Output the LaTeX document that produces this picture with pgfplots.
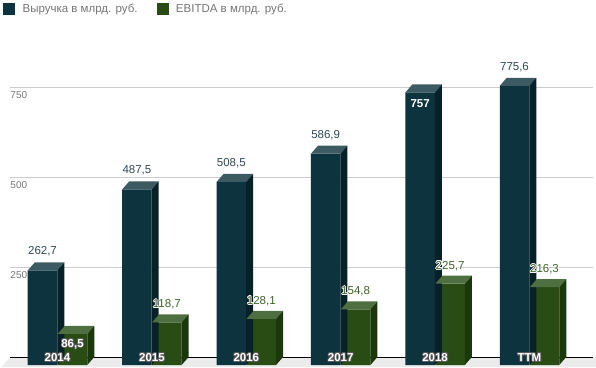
\documentclass[border=0pt]{standalone}
\usepackage{fontspec}
\setmainfont{Liberation Sans}
\usepackage{pgfplots}
\pgfplotsset{compat=1.18}
\definecolor{revF}{HTML}{0C333E}
\definecolor{revT}{HTML}{3B5A62}
\definecolor{revS}{HTML}{072129}
\definecolor{ebF}{HTML}{294C14}
\definecolor{ebT}{HTML}{4E7040}
\definecolor{ebS}{HTML}{1B370C}
\definecolor{revTxt}{HTML}{2E4850}
\definecolor{ebTxt}{HTML}{3C6229}
\definecolor{lgray}{HTML}{757575}
\definecolor{gridgray}{HTML}{CCCCCC}
\definecolor{floorC}{HTML}{EBEBEB}
\definecolor{haloC}{HTML}{5A5A5A}
\newcommand\hb[4]{\rlap{\kern#1\raisebox{#2}{\textcolor{#3}{#4}}}}
\newcommand\halo[3]{\leavevmode\hb{-0.8pt}{0pt}{#2}{#3}\hb{0.8pt}{0pt}{#2}{#3}\hb{0pt}{0.8pt}{#2}{#3}\hb{0pt}{-0.8pt}{#2}{#3}\hb{-0.55pt}{0.55pt}{#2}{#3}\hb{0.55pt}{0.55pt}{#2}{#3}\hb{-0.55pt}{-0.55pt}{#2}{#3}\hb{0.55pt}{-0.55pt}{#2}{#3}\textcolor{#1}{#3}}
\pgfplotsset{
  /pgf/number format/assume math mode=true,
  base/.style={at={(10.3pt,10pt)}, anchor=south west,
    x=94.4pt, y=0.36pt, xmin=-0.5, xmax=5.67, ymin=0, ymax=900,
    clip=false, axis line style={draw=none}, major tick length=0pt},
  bar3d/.style n args={6}{scatter, only marks, mark=none,
    visualization depends on={rawy \as \rawy},
    scatter/@pre marker code/.code={%
      \pgfscope
      \pgfmathparse{\rawy*0.36}\let\hh\pgfmathresult
      \pgfpathmoveto{\pgfqpoint{#1pt}{-8pt}}%
      \pgfpathlineto{\pgfqpoint{#2pt}{0pt}}%
      \pgfpathlineto{\pgfqpoint{#4pt}{0pt}}%
      \pgfpathlineto{\pgfqpoint{#3pt}{-8pt}}%
      \pgfpathclose
      \pgfsetfillcolor{#5}\pgfusepath{fill}%
      \pgfpathmoveto{\pgfqpoint{#3pt}{-8pt}}%
      \pgfpathlineto{\pgfqpoint{#4pt}{0pt}}%
      \pgfpathlineto{\pgfpoint{#4pt}{-\hh pt}}%
      \pgfpathlineto{\pgfpoint{#3pt}{-\hh pt-8pt}}%
      \pgfpathclose
      \pgfsetfillcolor{#6}\pgfusepath{fill}%
      \endpgfscope
    },
    scatter/@post marker code/.code={}},
  lab/.style={draw=none, mark=none, forget plot,
    nodes near coords={#1{\pgfmathprintnumber[use comma,fixed,precision=1]{\pgfplotspointmeta}}}},
}
\begin{document}
\begin{tikzpicture}
\fill[floorC] (1.5pt,0pt) -- (596pt,0pt) -- (596pt,10pt) -- (10.3pt,10pt) -- cycle;
\begin{axis}[
  base,
  xtick={0,1,2,3,4,5}, xticklabels={},
  ytick={250,500,750},
  yticklabel style={anchor=north west, font=\fontsize{10}{12}\selectfont, text=lgray, inner sep=0pt, yshift=-4.5pt},
  ymajorgrids,
  grid style={draw=gridgray, line width=0.8pt},
  extra y ticks={0}, extra y tick labels={},
  extra y tick style={grid style={draw=black, line width=0.9pt}},
  legend style={at={(-0.0125,1.0957)}, anchor=north west, draw=none, fill=none, inner sep=0pt,
    font=\fontsize{11.5}{13}\selectfont, text=lgray, legend columns=2,
    /tikz/every odd column/.append style={column sep=6pt},
    /tikz/every even column/.append style={column sep=17pt}},
  legend image code/.code={\fill[#1] (0pt,-5.5pt) rectangle (11pt,5.5pt);},
]
\addlegendimage{revF}
\addlegendentry{Выручка в млрд. руб.}
\addlegendimage{ebF}
\addlegendentry{EBITDA в млрд. руб.}
% revenue
\addplot[ybar, bar width=29.5pt, bar shift=-15pt, fill=revF, draw=none, yshift=-8pt, forget plot]
  coordinates {(0,262.7)(1,487.5)(2,508.5)(3,586.9)(4,757)(5,775.6)};
\addplot[bar3d={-29.75}{-22.75}{-0.25}{6.75}{revT}{revS}, forget plot]
  coordinates {(0,262.7)(1,487.5)(2,508.5)(3,586.9)(4,757)(5,775.6)};
\addplot[lab=\textcolor{revTxt},
  nodes near coords style={anchor=base, xshift=-15pt, yshift=7.5pt, inner sep=0pt, font=\fontsize{11.5}{13}\selectfont}]
  coordinates {(0,262.7)(1,487.5)(2,508.5)(3,586.9)(5,775.6)};
\addplot[lab=\textcolor{white},
  nodes near coords style={anchor=north, xshift=-15pt, yshift=-14.5pt, inner sep=0pt, font=\fontsize{11.5}{13}\selectfont\bfseries}]
  coordinates {(4,757)};
% EBITDA
\addplot[ybar, bar width=29.5pt, bar shift=15pt, fill=ebF, draw=none, yshift=-8pt, forget plot]
  coordinates {(0,86.5)(1,118.7)(2,128.1)(3,154.8)(4,225.7)(5,216.3)};
\addplot[bar3d={0.25}{7.25}{29.75}{36.75}{ebT}{ebS}, forget plot]
  coordinates {(0,86.5)(1,118.7)(2,128.1)(3,154.8)(4,225.7)(5,216.3)};
\addplot[lab={\halo{ebTxt}{white}},
  nodes near coords style={anchor=base, xshift=15pt, yshift=6.5pt, inner sep=0pt, font=\fontsize{11.5}{13}\selectfont}]
  coordinates {(1,118.7)(2,128.1)(3,154.8)(4,225.7)(5,216.3)};
\addplot[lab={\halo{white}{haloC}},
  nodes near coords style={anchor=north, xshift=15pt, yshift=-12.5pt, inner sep=0pt, font=\fontsize{11.5}{13}\selectfont\bfseries}]
  coordinates {(0,86.5)};
\end{axis}
\begin{axis}[
  base,
  ytick=\empty,
  xtick={0,1,2,3,4,5},
  xticklabels={\halo{white}{haloC}{2014},\halo{white}{haloC}{2015},\halo{white}{haloC}{2016},\halo{white}{haloC}{2017},\halo{white}{haloC}{2018},\halo{white}{haloC}{TTM}},
  xticklabel style={anchor=center, font=\fontsize{11.5}{13}\selectfont\bfseries, inner sep=0pt, yshift=-0.5pt},
]
\end{axis}
\pgfresetboundingbox
\path[use as bounding box] (0,0) rectangle (596pt,367pt);
\end{tikzpicture}
\end{document}
